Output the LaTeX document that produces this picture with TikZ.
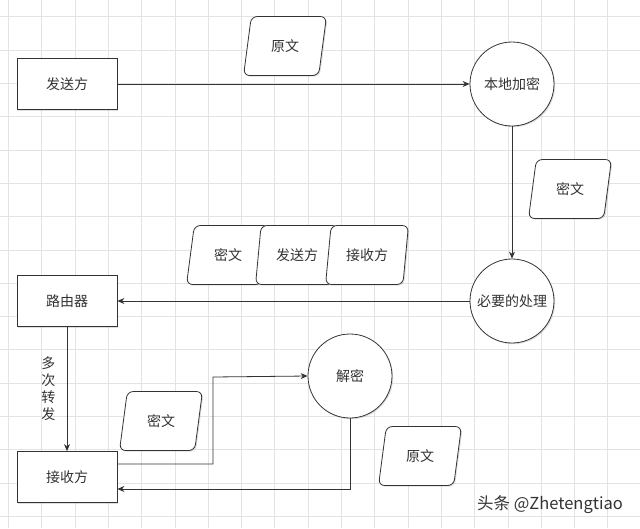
\documentclass[tikz,border=0pt]{standalone}
\usepackage{fontspec}
\setmainfont{Noto Sans CJK SC}
\usetikzlibrary{positioning}
\usetikzlibrary{shapes.geometric}
\usetikzlibrary{arrows.meta}
\usetikzlibrary{shadows}
\definecolor{inkgray}{HTML}{333333}
\definecolor{gridgray}{HTML}{E3E3E3}

\begin{document}
\begin{tikzpicture}[x=1pt, y=-1pt,
		every node/.style={font=\fontsize{14}{17}\selectfont, text=inkgray},
		shade box/.style={drop shadow={shadow xshift=1.2pt, shadow yshift=-1.2pt, opacity=.25}},
		box/.style={draw=inkgray, line width=.8pt, fill=white, shade box, minimum width=100pt, minimum height=51pt, inner sep=0pt},
		ball/.style={draw=inkgray, line width=.8pt, fill=white, shade box, circle, minimum size=84pt, inner sep=0pt},
		datum/.style={draw=inkgray, line width=.8pt, fill=white, shade box, trapezium, trapezium stretches=true,
			trapezium left angle=76, trapezium right angle=104, rounded corners=6pt,
			minimum width=83pt, minimum height=59pt, inner sep=0pt},
		flow/.style={draw=inkgray, line width=.8pt, -{Stealth[length=7pt, width=6pt]}},
		grid line/.style={draw=gridgray, line width=.6pt}
	]
	\fill[white] (0,0) rectangle (640,528);
	\useasboundingbox (0,0) rectangle (640,528);
	\foreach \gx in {8.3,41.6,...,640} \draw[grid line] (\gx,0) -- (\gx,528);
	\foreach \gy in {16.7,50,...,528} \draw[grid line] (0,\gy) -- (640,\gy);

	\node[box] (sender)   at (67,84)  {发送方};
	\node[box] (router)   at (67,301) {路由器};
	\node[box] (receiver) at (67,477) {接收方};
	\node[ball] (encrypt) at (512,84)  {本地加密};
	\node[ball] (process) at (512,301) {必要的处理};
	\node[ball] (decrypt) at (350,376) {解密};

	\node[datum] (plainA)   at (285,46)  {原文};
	\node[datum] (cipherA)  at (570,189) {密文};
	\node[datum] (cipherB)  at (228,255) {密文};
	\node[datum] (fromdata) at (297,255) {发送方};
	\node[datum] (todata)   at (367,255) {接收方};
	\node[datum] (cipherC)  at (161,421) {密文};
	\node[datum] (plainB)   at (420,456) {原文};

	\coordinate (bend) at (213,377);

	\draw[flow] (sender) -- (encrypt);
	\draw[flow] (encrypt) -- (process);
	\draw[flow] (process) -- (router);
	\draw[flow] (router) -- node[left=8pt, align=center] {多\\次\\转\\发} (receiver);
	\draw[flow] ([yshift=13pt]receiver.east) -| (bend) -- (decrypt.west);
	\draw[flow] (decrypt.south) |- ([yshift=-12pt]receiver.east);

	\node[font=\fontsize{16.5}{18}\selectfont] (mark) at (550,505) {头条 @Zhetengtiao};
\end{tikzpicture}
\end{document}
